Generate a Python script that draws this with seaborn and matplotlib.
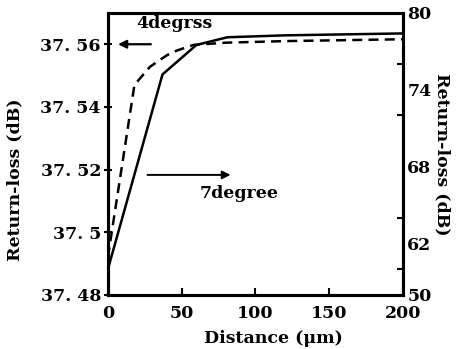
import matplotlib
matplotlib.use("Agg")
import matplotlib.pyplot as plt
import seaborn as sns
import pandas as pd
from matplotlib.ticker import FixedLocator, FixedFormatter

# data
x_4deg = [0, 18, 28.5, 40, 46.8, 58, 80, 120, 200]
y_4deg = [37.492, 37.547, 37.5528, 37.5565, 37.558, 37.5598, 37.5605, 37.561, 37.5616]
x_7deg = [0, 37, 60, 81, 120, 200]
y_7deg = [60.0, 75.2, 77.5, 78.1, 78.25, 78.4]
left_ticks = [37.48, 37.50, 37.52, 37.54, 37.56]
left_labels = ["37. 48", "37. 5", "37. 52", "37. 54", "37. 56"]
right_ticks = [58, 62, 68, 74, 80]
right_labels = ["50", "62", "68", "74", "80"]
right_minor = [60, 64, 68, 72, 76]
x_ticks = [0, 50, 100, 150, 200]

sns.set_style("ticks")
plt.rcParams['font.family'] = ['DejaVu Serif']
plt.rcParams['font.weight'] = 'bold'
for k in ['text.color', 'axes.labelcolor', 'xtick.color', 'ytick.color', 'axes.edgecolor']:
    plt.rcParams[k] = 'black'

FS = 12.5

fig = plt.figure(figsize=(4.67, 3.49), dpi=100)
ax = fig.add_axes([0.231, 0.155, 0.632, 0.808])
ax2 = ax.twinx()

df1 = pd.DataFrame({"x": x_4deg, "y": y_4deg})
df2 = pd.DataFrame({"x": x_7deg, "y": y_7deg})
sns.lineplot(data=df1, x="x", y="y", ax=ax, color="black", lw=1.8,
             linestyle=(0, (4, 2.5)))
sns.lineplot(data=df2, x="x", y="y", ax=ax2, color="black", lw=1.8)

ax.set_xlim(0, 200)
ax.set_ylim(37.48, 37.570)
ax2.set_ylim(58, 80)

ax.xaxis.set_major_locator(FixedLocator(x_ticks))
ax.set_xticklabels([str(v) for v in x_ticks])
ax.yaxis.set_major_locator(FixedLocator(left_ticks))
ax.yaxis.set_major_formatter(FixedFormatter(left_labels))
ax2.yaxis.set_major_locator(FixedLocator(right_ticks))
ax2.yaxis.set_major_formatter(FixedFormatter(right_labels))
ax2.yaxis.set_minor_locator(FixedLocator(right_minor))

ax.tick_params(axis="x", direction="in", length=5, width=1.5, labelsize=FS, pad=7)
ax.tick_params(axis="y", direction="inout", length=6, width=1.5, labelsize=FS, pad=2)
ax2.tick_params(axis="y", which="major", length=0, labelsize=FS, pad=3)
ax2.tick_params(axis="y", which="minor", direction="in", length=4, width=1.5)

for a in (ax, ax2):
    for s in a.spines.values():
        s.set_linewidth(2.2)
        s.set_color("black")
        s.set_visible(True)

ax.set_xlabel("Distance (μm)", fontsize=FS, fontweight="bold")
ax.set_ylabel("Return-loss (dB)", fontsize=FS, fontweight="bold")
ax2.set_ylabel("Return-loss (dB)", fontsize=FS, fontweight="bold", rotation=-90)
ax.xaxis.set_label_coords(0.56, -0.125)
ax.yaxis.set_label_coords(-0.285, 0.41)
ax2.yaxis.set_label_coords(1.16, 0.50)

ax.annotate("", xy=(5, 37.56), xytext=(31, 37.56),
            arrowprops=dict(arrowstyle="-|>", color="black", lw=1.6, mutation_scale=12))
ax.text(19.5, 37.5665, "4degrss", fontsize=FS, fontweight="bold", va="center", ha="left")
ax.annotate("", xy=(85, 37.5183), xytext=(25, 37.5183),
            arrowprops=dict(arrowstyle="-|>", color="black", lw=1.4, mutation_scale=12))
ax.text(62, 37.5125, "7degree", fontsize=FS, fontweight="bold", va="center", ha="left")

fig.savefig("out.png", dpi=100)
